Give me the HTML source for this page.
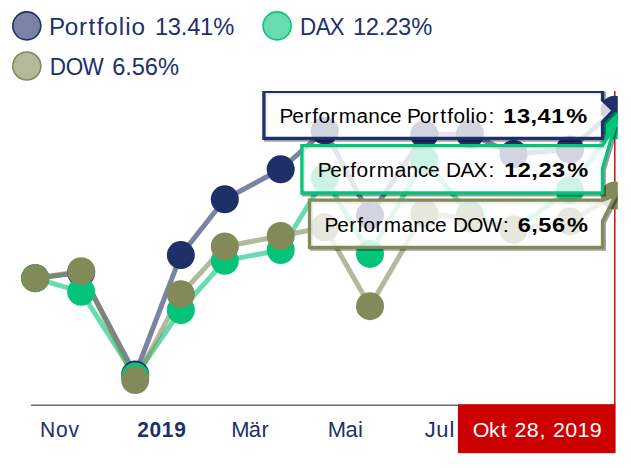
<!DOCTYPE html>
<html><head><meta charset="utf-8"><title>Chart</title>
<style>
html,body{margin:0;padding:0;background:#fff;}
body{width:631px;height:468px;overflow:hidden;font-family:"Liberation Sans",sans-serif;}
svg{display:block;}
text{font-family:"Liberation Sans",sans-serif;}
</style></head><body>
<svg width="631" height="468" viewBox="0 0 631 468">
<defs>
<filter id="bl" x="-5%" y="-20%" width="110%" height="140%"><feGaussianBlur stdDeviation="0.35"/></filter>
<clipPath id="cp"><rect x="0" y="91" width="617.8" height="377"/></clipPath>
</defs>
<rect width="631" height="468" fill="#fff"/>
<!-- legend -->
<g>
<circle cx="26.8" cy="25.85" r="14" fill="#1f3068" fill-opacity="0.6" stroke="#1f3068" stroke-width="1.6"/>
<circle cx="277.1" cy="25.85" r="14" fill="#04c47a" fill-opacity="0.6" stroke="#04c47a" stroke-width="1.6"/>
<circle cx="26.8" cy="66.0" r="14" fill="#808b58" fill-opacity="0.6" stroke="#808b58" stroke-width="1.6"/>
<g fill="#20306a">
<text transform="scale(0.98,1)" x="50.05 66.11 80.66 90.43 98.79 106.41 121.11 127.76 134.08" y="34.6" font-size="24.7" fill="#20306a">Portfolio</text><text transform="scale(0.98,1)" x="158.05 171.23 184.50 191.02 204.21 217.70" y="34.6" font-size="24.2" fill="#20306a">13.41%</text><text transform="scale(0.91,1)" x="329.82 347.06 362.16" y="34.6" font-size="24.7" fill="#20306a">DAX</text><text transform="scale(0.98,1)" x="360.09 373.27 386.54 393.07 406.25 419.75" y="34.6" font-size="24.2" fill="#20306a">12.23%</text><text transform="scale(0.91,1)" x="54.55 72.13 90.80" y="74.6" font-size="24.7" fill="#20306a">DOW</text><text transform="scale(0.98,1)" x="114.66 127.92 134.45 147.64 161.13" y="74.6" font-size="24.2" fill="#20306a">6.56%</text>
</g>
</g>
<!-- axis -->
<line x1="31" y1="405.3" x2="615" y2="405.3" stroke="#6b6b6b" stroke-width="1.5"/>
<g fill="#20306a">
<text transform="scale(0.94,1)" x="42.69 59.54 72.89" y="437" font-size="22.4" fill="#20306a">Nov</text><text transform="scale(0.95,1)" x="144.42 157.40 170.37 183.34" y="437" font-size="22.0" font-weight="bold" fill="#20306a">2019</text><text transform="scale(0.98,1)" x="235.96 253.94 266.73" y="437" font-size="22.4" fill="#20306a">Mär</text><text transform="scale(0.98,1)" x="334.53 352.52 365.32" y="437" font-size="22.4" fill="#20306a">Mai</text><text transform="scale(0.98,1)" x="433.50 445.25 458.65" y="437" font-size="22.4" fill="#20306a">Jul</text>
</g>
<g clip-path="url(#cp)">
<!-- lines -->
<polyline points="35.2,278.2 81.2,272.5 135.2,374.5 180.85,255.1 224.8,199.3 280.7,169.3 324.8,130.7 370.0,215.4 424.3,134.5 470,134.0 513.5,154 570,149.5 614.7,109.8" fill="none" stroke="#1f3068" stroke-opacity="0.6" stroke-width="5" stroke-linejoin="round"/>
<polyline points="35.2,278.2 81.2,291.8 135.2,376.5 180.85,310 224.8,260.8 280.7,250 324.8,178 370.0,253.9 424.3,159.8 470,215 513.5,229.8 570,190.2 614.7,125.5" fill="none" stroke="#04c47a" stroke-opacity="0.6" stroke-width="5" stroke-linejoin="round"/>
<polyline points="35.2,278.2 81.2,271.2 135.2,380.1 180.85,294.2 224.8,246.5 280.7,236 324.8,227.3 370.0,306.2 424.3,213.3 470,218.5 513.5,229.3 570,221.4 614.7,195.5" fill="none" stroke="#808b58" stroke-opacity="0.6" stroke-width="5" stroke-linejoin="round"/>
<!-- cursor -->
<line x1="614.8" y1="91" x2="614.8" y2="405" stroke="#cc0000" stroke-width="1.4"/>
<!-- bullets -->
<g><circle cx="35.2" cy="278.2" r="14" fill="#1f3068"/><circle cx="81.2" cy="272.5" r="14" fill="#1f3068"/><circle cx="135.2" cy="374.5" r="14" fill="#1f3068"/><circle cx="180.85" cy="255.1" r="14" fill="#1f3068"/><circle cx="224.8" cy="199.3" r="14" fill="#1f3068"/><circle cx="280.7" cy="169.3" r="14" fill="#1f3068"/><circle cx="324.8" cy="130.7" r="14" fill="#1f3068"/><circle cx="370.0" cy="215.4" r="14" fill="#1f3068"/><circle cx="424.3" cy="134.5" r="14" fill="#1f3068"/><circle cx="470" cy="134.0" r="14" fill="#1f3068"/><circle cx="513.5" cy="154" r="14" fill="#1f3068"/><circle cx="570" cy="149.5" r="14" fill="#1f3068"/><circle cx="614.7" cy="109.8" r="14" fill="#1f3068"/></g>
<g><circle cx="35.2" cy="278.2" r="14" fill="#04c47a"/><circle cx="81.2" cy="291.8" r="14" fill="#04c47a"/><circle cx="135.2" cy="376.5" r="14" fill="#04c47a"/><circle cx="180.85" cy="310" r="14" fill="#04c47a"/><circle cx="224.8" cy="260.8" r="14" fill="#04c47a"/><circle cx="280.7" cy="250" r="14" fill="#04c47a"/><circle cx="324.8" cy="178" r="14" fill="#04c47a"/><circle cx="370.0" cy="253.9" r="14" fill="#04c47a"/><circle cx="424.3" cy="159.8" r="14" fill="#04c47a"/><circle cx="470" cy="215" r="14" fill="#04c47a"/><circle cx="513.5" cy="229.8" r="14" fill="#04c47a"/><circle cx="570" cy="190.2" r="14" fill="#04c47a"/><circle cx="614.7" cy="125.5" r="14" fill="#04c47a"/></g>
<g><circle cx="35.2" cy="278.2" r="14" fill="#808b58"/><circle cx="81.2" cy="271.2" r="14" fill="#808b58"/><circle cx="135.2" cy="380.1" r="14" fill="#808b58"/><circle cx="180.85" cy="294.2" r="14" fill="#808b58"/><circle cx="224.8" cy="246.5" r="14" fill="#808b58"/><circle cx="280.7" cy="236" r="14" fill="#808b58"/><circle cx="324.8" cy="227.3" r="14" fill="#808b58"/><circle cx="370.0" cy="306.2" r="14" fill="#808b58"/><circle cx="424.3" cy="213.3" r="14" fill="#808b58"/><circle cx="470" cy="218.5" r="14" fill="#808b58"/><circle cx="513.5" cy="229.3" r="14" fill="#808b58"/><circle cx="570" cy="221.4" r="14" fill="#808b58"/><circle cx="614.7" cy="195.5" r="14" fill="#808b58"/></g>
<!-- tooltips -->
<path d="M263.9,91.4 L602.5,91.4 L602.5,100 L613.5,110.5 L602.5,122 L602.5,138.4 L263.9,138.4 Z" transform="translate(1.8,1.8)" fill="none" stroke="#000" stroke-opacity="0.38" stroke-width="3.3" stroke-linejoin="miter" filter="url(#bl)"/><path d="M263.9,91.4 L602.5,91.4 L602.5,100 L613.5,110.5 L602.5,122 L602.5,138.4 L263.9,138.4 Z" fill="#fff" fill-opacity="0.8"/><path d="M263.9,91.4 L602.5,91.4 L602.5,100 L613.5,110.5 L602.5,122 L602.5,138.4 L263.9,138.4 Z" fill="none" stroke="#1f3068" stroke-width="3.3" stroke-linejoin="miter"/>
<text transform="scale(1.04,1)" x="268.85 280.94 292.54 300.22 306.21 317.91 325.73 342.90 354.20 365.33 375.00 391.31 403.50 415.19 423.26 430.09 436.09 447.50 452.53 457.26 469.76" y="122.6" font-size="20.0" fill="#000">PerformancePortfolio:</text><text transform="scale(1.18,1)" x="426.58 438.15 449.65 455.59 467.16 479.96" y="122.6" font-size="20.0" font-weight="bold" fill="#000">13,41%</text>
<path d="M301.9,145.7 L602.5,145.7 L615,125.5 L602.5,168.5 L602.5,193 L301.9,193 Z" transform="translate(1.8,1.8)" fill="none" stroke="#000" stroke-opacity="0.38" stroke-width="3.3" stroke-linejoin="miter" filter="url(#bl)"/><path d="M301.9,145.7 L602.5,145.7 L615,125.5 L602.5,168.5 L602.5,193 L301.9,193 Z" fill="#fff" fill-opacity="0.8"/><path d="M301.9,145.7 L602.5,145.7 L615,125.5 L602.5,168.5 L602.5,193 L301.9,193 Z" fill="none" stroke="#04c47a" stroke-width="3.3" stroke-linejoin="miter"/>
<text transform="scale(1.04,1)" x="305.49 317.57 329.17 336.85 342.85 354.54 362.36 379.54 390.84 401.96 411.63 428.92 442.79 455.33 469.65" y="176.9" font-size="20.0" fill="#000">PerformanceDAX:</text><text transform="scale(1.18,1)" x="427.26 438.82 450.33 456.27 467.84 480.64" y="176.9" font-size="20.0" font-weight="bold" fill="#000">12,23%</text>
<path d="M309.5,200.1 L602.5,200.1 L615.5,195.5 L602.5,221 L602.5,247.4 L309.5,247.4 Z" transform="translate(1.8,1.8)" fill="none" stroke="#000" stroke-opacity="0.38" stroke-width="3.3" stroke-linejoin="miter" filter="url(#bl)"/><path d="M309.5,200.1 L602.5,200.1 L615.5,195.5 L602.5,221 L602.5,247.4 L309.5,247.4 Z" fill="#fff" fill-opacity="0.8"/><path d="M309.5,200.1 L602.5,200.1 L615.5,195.5 L602.5,221 L602.5,247.4 L309.5,247.4 Z" fill="none" stroke="#808b58" stroke-width="3.3" stroke-linejoin="miter"/>
<text transform="scale(1.04,1)" x="312.12 324.21 335.81 343.49 349.48 361.18 369.00 386.17 397.47 408.60 418.26 435.56 449.27 463.87 483.75" y="232.1" font-size="20.0" fill="#000">PerformanceDOW:</text><text transform="scale(1.18,1)" x="438.78 450.29 456.23 467.80 480.59" y="232.1" font-size="20.0" font-weight="bold" fill="#000">6,56%</text>
</g>
<!-- axis tooltip -->
<rect x="457.9" y="404.3" width="157.7" height="48.9" fill="#cc0000"/>
<text transform="scale(1.04,1)" x="454.48 470.14 481.58 494.79 506.59 518.73 531.66 543.46 555.26 567.05" y="436.8" font-size="20.6" fill="#fff">Okt28,2019</text>
</svg>
</body></html>
